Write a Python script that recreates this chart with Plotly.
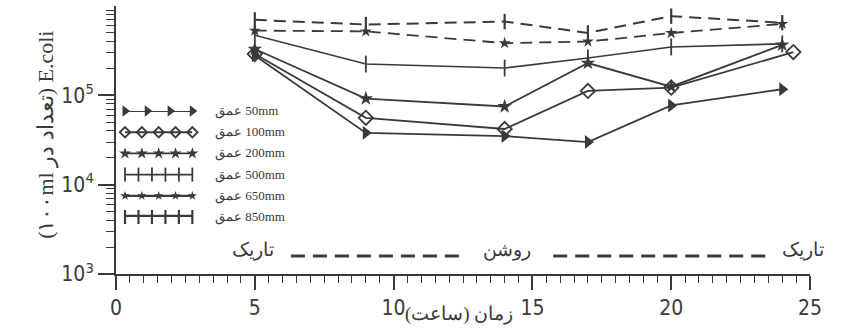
import numpy as np
import plotly.graph_objects as go

# ---------------- data ----------------
hours = [5, 9, 14, 17, 20, 24]
hours_100 = [5, 9, 14, 17, 20, 24.4]
depth_labels = ["50mm", "100mm", "200mm", "500mm", "650mm", "850mm"]
ecoli_50 = [2.8e5, 3.8e4, 3.5e4, 3.0e4, 7.7e4, 1.17e5]
ecoli_100 = [2.9e5, 5.6e4, 4.2e4, 1.12e5, 1.22e5, 3.05e5]
ecoli_200 = [3.3e5, 9.2e4, 7.5e4, 2.3e5, 1.25e5, 3.67e5]
ecoli_500 = [4.7e5, 2.24e5, 2.02e5, 2.62e5, 3.48e5, 3.77e5]
ecoli_650 = [5.3e5, 5.2e5, 3.84e5, 4.0e5, 4.98e5, 6.3e5]
ecoli_850 = [7.0e5, 6.2e5, 6.7e5, 5.0e5, 7.7e5, 6.5e5]

x_ticks = [0, 5, 10, 15, 20, 25]
y_ticks = [1e3, 1e4, 1e5]
y_ticktext = ["10<sup>3</sup>", "10<sup>4</sup>", "10<sup>5</sup>"]
period_labels = ["تاریک", "روشن", "تاریک"]
period_label_hours = [4.94, 14.1, 24.75]
dash_segments = [(6.3, 12.4), (15.75, 23.5)]
x_title = "\u202Bزمان (ساعت)\u202C"
y_title = "(۱۰۰ml تعداد در) E.coli"
legend_prefix = "عمق"

# ---------------- styles ----------------
INK = "#3a3a3a"
NUM_FONT = "Liberation Sans Narrow, DejaVu Sans Condensed, Arial Narrow, sans-serif"
SERIF = "Liberation Serif, DejaVu Serif, serif"

styles = [
    dict(symbol="triangle-right", size=12, dash="solid", lw=1.8, mlw=0),
    dict(symbol="diamond-open", size=11, dash="solid", lw=1.8, mlw=1.8),
    dict(symbol="star", size=11, dash="solid", lw=1.8, mlw=0),
    dict(symbol="line-ns", size=12, dash="solid", lw=1.6, mlw=1.8),
    dict(symbol="star", size=9, dash="12px,7px", lw=1.8, mlw=0),
    dict(symbol="line-ns", size=11, dash="12px,7px", lw=2.0, mlw=2.2),
]
series = [ecoli_50, ecoli_100, ecoli_200, ecoli_500, ecoli_650, ecoli_850]
series_x = [hours, hours_100, hours, hours, hours, hours]

fig = go.Figure()

for xs, ys, st, name in zip(series_x, series, styles, depth_labels):
    fig.add_trace(go.Scatter(
        x=xs, y=ys, mode="lines+markers", name=name, showlegend=False,
        line=dict(color=INK, width=st["lw"], dash=st["dash"]),
        marker=dict(symbol=st["symbol"], size=st["size"], color=INK,
                    line=dict(color=INK, width=st["mlw"])),
        cliponaxis=False,
    ))

# ---------------- hand-made legend on an overlay axis ----------------
legend_sample_x = [
    [0, 0.33, 0.67, 1.0],
    [0, 0.25, 0.5, 0.75, 1.0],
    [0, 0.25, 0.5, 0.75, 1.0],
    [0, 0.2, 0.4, 0.6, 0.8, 1.0],
    [0, 0.25, 0.5, 0.75, 1.0],
    [0, 0.2, 0.4, 0.6, 0.8, 1.0],
]
legend_line_w = [1.8, 1.8, 1.8, 1.6, 2.2, 4.5]
legend_marker_size = [10, 8, 9, 10, 7, 10]
for i, (st, sx) in enumerate(zip(styles, legend_sample_x)):
    fig.add_trace(go.Scatter(
        x=sx, y=[i] * len(sx), xaxis="x2", yaxis="y2", mode="lines+markers",
        showlegend=False, hoverinfo="skip", cliponaxis=False,
        line=dict(color=INK, width=legend_line_w[i]),
        marker=dict(symbol=st["symbol"], size=legend_marker_size[i], color=INK,
                    line=dict(color=INK, width=st["mlw"])),
    ))
    fig.add_annotation(
        x=0.1398, xref="paper", y=i, yref="y2", xanchor="left", yanchor="middle",
        text=legend_prefix + "\u200E " + depth_labels[i], showarrow=False,
        font=dict(family=SERIF, size=13, color=INK),
    )

# ---------------- dark / light period labels ----------------
for lab, h in zip(period_labels, period_label_hours):
    fig.add_annotation(x=h, xref="x", y=0.09, yref="paper", text=lab,
                       showarrow=False, xanchor="center", yanchor="middle",
                       font=dict(family=SERIF, size=19, color=INK))
for a, b in dash_segments:
    fig.add_shape(type="line", x0=a, x1=b, xref="x", y0=0.067, y1=0.067,
                  yref="paper", line=dict(color=INK, width=3, dash="14px,8px"))

# axis titles
fig.add_annotation(x=12.36, xref="x", y=-0.197, yref="paper", text=x_title,
                   showarrow=False, font=dict(family=SERIF, size=19, color=INK))
fig.add_annotation(x=-0.102, xref="paper", y=0.52, yref="paper", text=y_title,
                   textangle=-90, showarrow=False, xanchor="center", yanchor="middle",
                   font=dict(family=SERIF, size=22, color=INK))

minor_y = [m * 10 ** d for d in range(3, 6) for m in range(2, 10)]

fig.update_layout(
    width=855, height=329,
    margin=dict(l=116, r=45, t=6, b=55),
    paper_bgcolor="white", plot_bgcolor="white",
    font=dict(family=NUM_FONT, color=INK),
    xaxis=dict(
        range=[0, 25], tickvals=x_ticks, ticks="outside", ticklen=14, tickwidth=1.6,
        tickcolor=INK, showline=True, linewidth=2, linecolor=INK, showgrid=False,
        zeroline=False, tickfont=dict(family=NUM_FONT, size=21, color=INK),
        minor=dict(dtick=0.5, ticks="outside", ticklen=7, tickwidth=1.3, tickcolor=INK,
                   showgrid=False),
    ),
    yaxis=dict(
        type="log", range=[3, 6], tickvals=y_ticks, ticktext=y_ticktext,
        ticks="outside", ticklen=16, tickwidth=1.6, tickcolor=INK,
        showline=True, linewidth=2, linecolor=INK, showgrid=False, zeroline=False,
        tickfont=dict(family=NUM_FONT, size=21, color=INK),
        minor=dict(tickvals=minor_y, ticks="outside", ticklen=8, tickwidth=1.3,
                   tickcolor=INK, showgrid=False),
    ),
    xaxis2=dict(domain=[0.013, 0.11], range=[0, 1], visible=False, anchor="y2",
                fixedrange=True),
    yaxis2=dict(domain=[0.2127, 0.608], range=[5, 0], visible=False, anchor="x2",
                fixedrange=True),
    showlegend=False,
)

fig.write_html("out.html", config={"displayModeBar": False},
               post_script="document.body.style.margin='0';document.body.style.overflow='hidden';")
